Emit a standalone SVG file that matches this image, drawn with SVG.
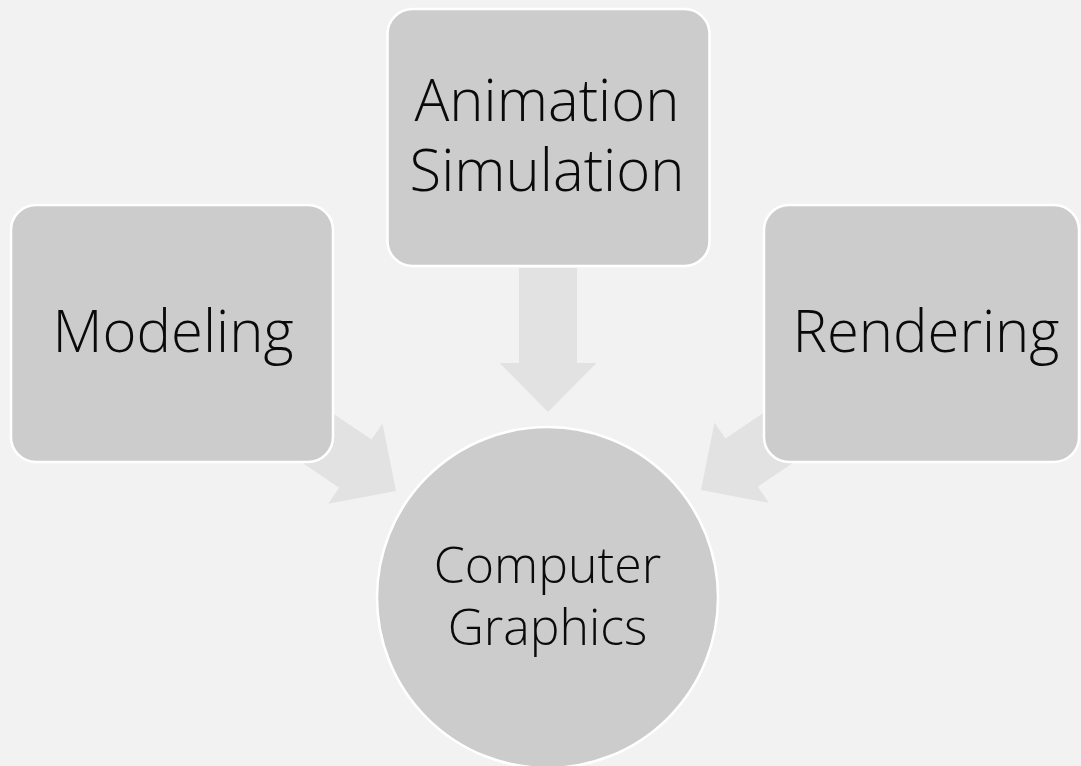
<svg xmlns="http://www.w3.org/2000/svg" width="1081" height="766" viewBox="0 0 1081 766">
  <defs>
    <style>
      .box { fill: #cccccc; stroke: #ffffff; stroke-width: 2.5; }
      .arrow { fill: #e2e2e2; }
      .label { font-family: "Open Sans", "Liberation Sans", sans-serif; font-weight: 300; fill: #0a0a0a; text-anchor: middle; }
      .big { font-size: 58px; }
      .mid { font-size: 50px; }
    </style>
    <!-- block arrow pointing down, tip at origin -->
    <path id="blockArrow" d="M -29 -144 L 29 -144 L 29 -49 L 48.5 -49 L 0 0 L -48.5 -49 L -29 -49 Z"/>
  </defs>

  <rect width="1081" height="766" fill="#f2f2f2"/>

  <g id="connectors">
    <use href="#blockArrow" class="arrow" transform="translate(548,412)"/>
    <use href="#blockArrow" class="arrow" transform="translate(396,491) rotate(-56)"/>
    <use href="#blockArrow" class="arrow" transform="translate(701,490) rotate(56)"/>
  </g>

  <g id="node-modeling">
    <rect class="box" x="11" y="205" width="322" height="257" rx="25"/>
    <text class="label big" x="173" y="352">Modeling</text>
  </g>

  <g id="node-animation">
    <rect class="box" x="387.5" y="9" width="322" height="257" rx="25"/>
    <text class="label big" x="547" y="121">Animation</text>
    <text class="label big" x="547" y="191">Simulation</text>
  </g>

  <g id="node-rendering">
    <rect class="box" x="764" y="205" width="315" height="257" rx="25"/>
    <text class="label big" x="926" y="352">Rendering</text>
  </g>

  <g id="node-computer-graphics">
    <circle class="box" cx="547.5" cy="597.5" r="170.5"/>
    <text class="label mid" x="547.5" y="583">Computer</text>
    <text class="label mid" x="547.5" y="645">Graphics</text>
  </g>
</svg>
